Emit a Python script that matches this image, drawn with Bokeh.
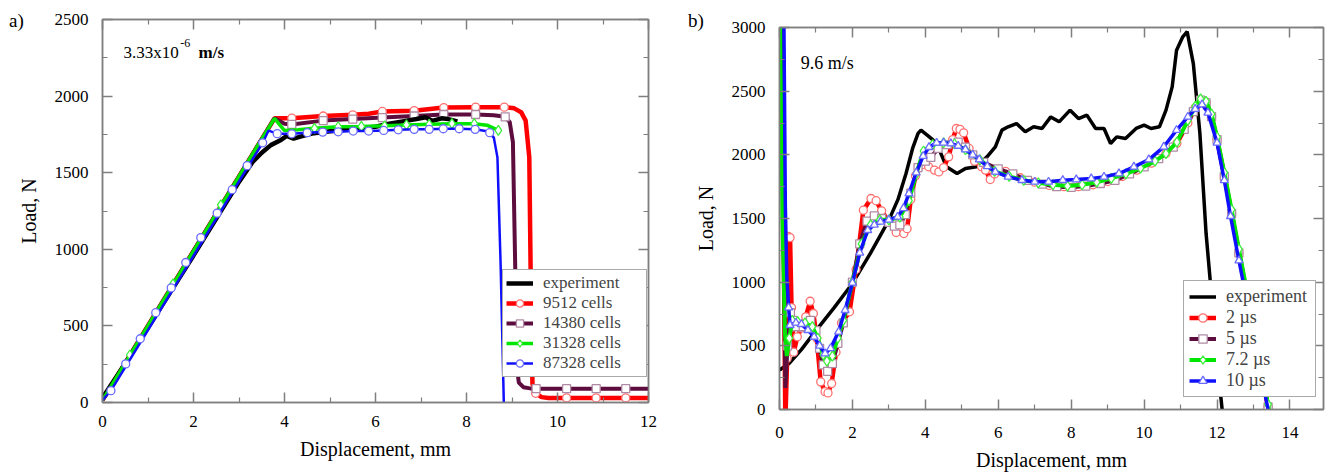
from bokeh.plotting import figure
from bokeh.models import Range1d, LinearAxis, FixedTicker, Label, Legend, LegendItem, Div
from bokeh.embed import file_html
from bokeh.resources import INLINE

# ---------------- panel a) data ----------------
xticks_a = [0, 2, 4, 6, 8, 10, 12]
yticks_a = [0, 500, 1000, 1500, 2000, 2500]

exp_a_x = [0, 0.5, 1.0, 1.5, 2.0, 2.5, 3.0, 3.3, 3.5, 3.7, 3.9, 4.05, 4.2, 4.35, 4.6, 5.0, 5.5, 6.0, 6.3, 6.6, 6.9, 7.1, 7.25, 7.45, 7.6, 7.8]
exp_a_y = [30, 255, 490, 725, 960, 1200, 1440, 1570, 1630, 1680, 1710, 1740, 1722, 1735, 1755, 1770, 1785, 1800, 1820, 1835, 1850, 1862, 1838, 1855, 1850, 1835]

c9512_x = [0, 3.78, 4.16, 4.85, 5.5, 5.85, 6.15, 6.85, 7.5, 8.2, 8.83, 9.05, 9.2, 9.3, 9.38, 9.42, 9.45, 9.52, 9.65, 9.8, 10.2, 10.85, 11.5, 12]
c9512_y = [15, 1855, 1856, 1870, 1878, 1885, 1900, 1905, 1925, 1928, 1928, 1920, 1895, 1840, 1600, 600, 120, 60, 35, 30, 30, 30, 30, 30]
c9512_mx = [4.16, 4.85, 5.5, 6.15, 6.85, 7.5, 8.2, 8.83, 9.52, 10.2, 10.85, 11.5]
c9512_my = [1856, 1870, 1878, 1900, 1905, 1925, 1928, 1928, 60, 30, 30, 30]

c14380_x = [0, 3.78, 4.0, 4.16, 4.85, 5.5, 6.15, 6.85, 7.5, 8.2, 8.6, 8.85, 8.95, 9.02, 9.07, 9.1, 9.15, 9.25, 9.4, 9.53, 10.2, 10.85, 11.5, 12]
c14380_y = [15, 1855, 1820, 1815, 1840, 1850, 1860, 1870, 1880, 1880, 1875, 1865, 1830, 1700, 900, 250, 130, 100, 92, 90, 90, 90, 90, 90]
c14380_mx = [4.16, 4.85, 5.5, 6.15, 6.85, 7.5, 8.2, 8.85, 9.53, 10.2, 10.85, 11.5]
c14380_my = [1815, 1840, 1850, 1860, 1870, 1880, 1880, 1865, 90, 90, 90, 90]

c31328_x = [0, 3.5, 3.78, 4.0, 4.3, 4.66, 5.18, 5.69, 6.2, 6.68, 7.18, 7.68, 8.17, 8.45, 8.7]
c31328_y = [15, 1720, 1855, 1775, 1780, 1790, 1800, 1802, 1806, 1812, 1816, 1820, 1820, 1810, 1776]
c31328_mx = [0.6, 1.55, 2.6, 4.66, 5.18, 5.69, 6.2, 6.68, 7.18, 7.68, 8.17, 8.7]
c31328_my = [310, 775, 1290, 1790, 1800, 1802, 1806, 1812, 1816, 1820, 1820, 1776]

c87328_x = [0, 0.185, 3.52, 3.65, 3.84, 4.16, 4.5, 4.84, 5.18, 5.51, 5.85, 6.18, 6.5, 6.85, 7.18, 7.49, 7.84, 8.19, 8.45, 8.6, 8.68, 8.75, 8.82, 8.9]
c87328_y = [15, 77, 1695, 1775, 1755, 1754, 1761, 1765, 1767, 1772, 1772, 1776, 1780, 1783, 1783, 1787, 1787, 1783, 1770, 1730, 1600, 900, 0, -200]
c87328_mx = [0.185, 0.51, 0.83, 1.17, 1.51, 1.83, 2.16, 2.52, 2.85, 3.18, 3.52, 3.84, 4.16, 4.5, 4.84, 5.18, 5.51, 5.85, 6.18, 6.5, 6.85, 7.18, 7.49, 7.84, 8.19, 8.51]
c87328_my = [77, 252, 416, 586, 748, 914, 1076, 1236, 1389, 1546, 1695, 1755, 1754, 1761, 1765, 1767, 1772, 1772, 1776, 1780, 1783, 1783, 1787, 1787, 1783, 1761]

# ---------------- panel b) data ----------------
xticks_b = [0, 2, 4, 6, 8, 10, 12, 14]
yticks_b = [0, 500, 1000, 1500, 2000, 2500, 3000]

exp_b_x = [0, 0.26, 0.6, 1.0, 1.5, 2.0, 2.5, 3.0, 3.25, 3.47, 3.65, 3.8, 3.88, 4.05, 4.2, 4.35, 4.58, 4.87, 5.1, 5.4, 5.69, 5.92, 6.1, 6.27, 6.5, 6.74, 6.97, 7.2, 7.44, 7.67, 7.97, 8.2, 8.43, 8.67, 8.9, 9.08, 9.25, 9.49, 9.78, 10.0, 10.19, 10.42, 10.6, 10.77, 10.89, 11.06, 11.18, 11.35, 11.53, 11.7, 11.86, 12.0, 12.14, 12.2]
exp_b_y = [309, 361, 470, 620, 800, 990, 1230, 1487, 1650, 1853, 2050, 2168, 2194, 2155, 2120, 2063, 1906, 1853, 1893, 1906, 1984, 2063, 2194, 2220, 2246, 2181, 2220, 2207, 2298, 2259, 2351, 2285, 2312, 2207, 2207, 2089, 2141, 2128, 2207, 2233, 2207, 2220, 2351, 2534, 2822, 2927, 2967, 2716, 2168, 1382, 859, 387, 0, -150]

us2_x = [0.03, 0.1, 0.16, 0.21, 0.24, 0.29, 0.33, 0.39, 0.49, 0.6, 0.72, 0.84, 0.93, 1.02, 1.13, 1.25, 1.33, 1.43, 1.55, 1.7, 1.92, 2.1, 2.3, 2.51, 2.65, 2.8, 3.0, 3.2, 3.41, 3.5, 3.6, 3.73, 3.9, 4.09, 4.25, 4.37, 4.5, 4.64, 4.75, 4.85, 4.95, 5.05, 5.2, 5.35, 5.54, 5.65, 5.78, 5.9, 6.2, 6.6, 7.0, 7.4, 7.8, 8.2, 8.6, 9.0, 9.4, 9.8, 10.2, 10.6, 10.9, 11.2, 11.4, 11.55, 11.7, 11.85, 12.0, 12.2, 12.4, 12.6, 12.8, 13.0, 13.2, 13.4, 13.55]
us2_y = [3100, 1800, -100, 400, 1360, 1350, 800, 450, 571, 640, 728, 850, 754, 560, 217, 140, 130, 204, 450, 680, 767, 1100, 1565, 1657, 1640, 1560, 1474, 1390, 1382, 1420, 1650, 1835, 1920, 1906, 1880, 1866, 1900, 1984, 2120, 2207, 2200, 2173, 2050, 1950, 1906, 1880, 1806, 1850, 1870, 1820, 1785, 1760, 1750, 1750, 1765, 1790, 1830, 1880, 1935, 2010, 2090, 2250, 2370, 2430, 2410, 2300, 2120, 1840, 1540, 1230, 930, 620, 310, 20, -200]

us5_x = [0.06, 0.12, 0.16, 0.22, 0.3, 0.37, 0.45, 0.65, 0.85, 1.0, 1.1, 1.2, 1.32, 1.45, 1.6, 1.75, 2.0, 2.2, 2.4, 2.6, 2.8, 3.0, 3.15, 3.3, 3.45, 3.6, 3.8, 4.0, 4.15, 4.35, 4.6, 4.9, 5.1, 5.3, 5.6, 6.0, 6.4, 6.8, 7.2, 7.6, 8.0, 8.4, 8.8, 9.2, 9.6, 10.0, 10.4, 10.8, 11.1, 11.35, 11.55, 11.7, 11.85, 12.0, 12.2, 12.4, 12.6, 12.8, 13.0, 13.2, 13.4, 13.55]
us5_y = [3100, 1200, 170, 500, 760, 700, 650, 650, 700, 620, 480, 350, 300, 360, 520, 680, 1000, 1300, 1480, 1520, 1500, 1470, 1440, 1450, 1530, 1700, 1900, 1950, 1980, 2050, 2080, 2100, 2060, 2000, 1940, 1890, 1850, 1800, 1770, 1750, 1745, 1755, 1775, 1800, 1850, 1905, 1970, 2060, 2200, 2340, 2430, 2410, 2300, 2120, 1830, 1540, 1230, 930, 620, 310, 20, -200]

us72_x = [0.02, 0.08, 0.15, 0.2, 0.27, 0.35, 0.5, 0.7, 0.9, 1.05, 1.2, 1.3, 1.45, 1.6, 1.75, 2.0, 2.25, 2.5, 2.75, 3.0, 3.3, 3.55, 3.75, 3.95, 4.2, 4.5, 4.8, 5.1, 5.5, 5.9, 6.3, 6.7, 7.1, 7.5, 7.9, 8.3, 8.7, 9.1, 9.5, 9.9, 10.3, 10.6, 10.9, 11.2, 11.4, 11.55, 11.7, 11.85, 12.0, 12.2, 12.4, 12.6, 12.8, 13.0, 13.2, 13.4, 13.55]
us72_y = [3100, 1500, 600, 420, 560, 700, 690, 680, 650, 560, 430, 380, 420, 560, 700, 1000, 1300, 1450, 1490, 1490, 1510, 1640, 1850, 2030, 2080, 2095, 2085, 2040, 1960, 1870, 1830, 1800, 1780, 1765, 1755, 1765, 1785, 1815, 1850, 1895, 1950, 2010, 2100, 2270, 2380, 2440, 2420, 2320, 2140, 1860, 1570, 1260, 960, 650, 340, 40, -200]

us10_x = [0.12, 0.16, 0.2, 0.25, 0.29, 0.45, 0.6, 0.78, 0.95, 1.1, 1.25, 1.4, 1.62, 1.8, 2.0, 2.2, 2.42, 2.6, 2.77, 3.0, 3.24, 3.4, 3.55, 3.75, 3.94, 4.1, 4.31, 4.5, 4.7, 4.9, 5.1, 5.3, 5.48, 5.7, 5.92, 6.27, 6.65, 7.0, 7.38, 7.77, 8.14, 8.55, 8.9, 9.31, 9.72, 10.13, 10.54, 10.89, 11.2, 11.4, 11.59, 11.75, 12.0, 12.2, 12.37, 12.6, 12.8, 13.0, 13.2, 13.4, 13.55]
us10_y = [3100, 1600, 1050, 800, 662, 680, 670, 623, 570, 500, 440, 480, 610, 780, 995, 1230, 1408, 1450, 1474, 1490, 1513, 1580, 1696, 1860, 1990, 2060, 2094, 2095, 2089, 2070, 2042, 2000, 1963, 1910, 1866, 1827, 1801, 1788, 1788, 1801, 1806, 1814, 1827, 1853, 1906, 1963, 2063, 2194, 2298, 2360, 2395, 2330, 2094, 1800, 1518, 1170, 880, 590, 290, 0, -220]

FONT = "Liberation Serif"
AX = "#7f7f7f"


def style_axes(p, xt, yt, x_label_standoff, x_title_standoff):
    bottom = p.below[0]
    left = p.left[0]
    xminor = [(a + b) / 2 for a, b in zip(xt[:-1], xt[1:])] + [xt[-1] + (xt[1] - xt[0]) / 2]
    yminor = [(a + b) / 2 for a, b in zip(yt[:-1], yt[1:])]
    bottom.ticker = FixedTicker(ticks=xt, minor_ticks=xminor)
    left.ticker = FixedTicker(ticks=yt, minor_ticks=yminor)
    top = LinearAxis(ticker=FixedTicker(ticks=xt, minor_ticks=xminor))
    right = LinearAxis(ticker=FixedTicker(ticks=yt, minor_ticks=yminor))
    p.add_layout(top, "above")
    p.add_layout(right, "right")
    for ax in [bottom, left, top, right]:
        ax.major_tick_in = 10
        ax.major_tick_out = 0
        ax.minor_tick_in = 5
        ax.minor_tick_out = 0
        ax.axis_line_color = AX
        ax.axis_line_width = 1.5
        ax.major_tick_line_color = AX
        ax.minor_tick_line_color = AX
        ax.major_tick_line_width = 1.5
        ax.minor_tick_line_width = 1.2
        ax.major_label_text_font = FONT
        ax.major_label_text_font_size = "17px"
        ax.major_label_text_color = "black"
        ax.axis_label_text_font = FONT
        ax.axis_label_text_font_size = "20px"
        ax.axis_label_text_font_style = "normal"
        ax.axis_label_text_color = "black"
    for ax in [top, right]:
        ax.major_label_text_color = None
        ax.major_label_text_font_size = "1px"
        ax.major_label_standoff = 0
    bottom.major_label_standoff = x_label_standoff
    bottom.axis_label_standoff = x_title_standoff
    left.major_label_standoff = 14
    left.axis_label_standoff = 12
    p.xgrid.visible = False
    p.ygrid.visible = False
    p.outline_line_color = AX
    p.outline_line_width = 1.5


# ---------------- panel a ----------------
pa = figure(width=670, height=474, output_backend="svg", toolbar_location=None,
            x_range=Range1d(0, 12), y_range=Range1d(0, 2500),
            x_axis_label="Displacement, mm", y_axis_label="Load, N",
            min_border_left=102, min_border_right=22, min_border_top=19, min_border_bottom=72)
style_axes(pa, xticks_a, yticks_a, 13, 8)

series_a = [
    ("9512 cells", c9512_x, c9512_y, c9512_mx, c9512_my, "#ff0000", "#ff7070", "circle", 4.5),
    ("14380 cells", c14380_x, c14380_y, c14380_mx, c14380_my, "#5c0d3e", "#b08aa4", "square", 4),
]
items_a = {}
for name, lx, ly, mx, my, col, mcol, mk, lw in series_a:
    l = pa.line(lx, ly, line_color=col, line_width=lw)
    s = pa.scatter(mx, my, marker=mk, size=8, fill_color="white", line_color=mcol, line_width=1.3)
    items_a[name] = [l, s]
le = pa.line(exp_a_x, exp_a_y, line_color="black", line_width=4.5)
lg = pa.line(c31328_x, c31328_y, line_color="#00e600", line_width=3.5)
sg = pa.scatter(c31328_mx, c31328_my, marker="diamond", size=10, fill_color="white",
                line_color="#3cf03c", line_width=1.3)
items_a["31328 cells"] = [lg, sg]
lb = pa.line(c87328_x, c87328_y, line_color="#1010ff", line_width=2.5)
sb = pa.scatter(c87328_mx, c87328_my, marker="circle", size=8, fill_color="white",
                line_color="#6a6aff", line_width=1.3)
items_a["87328 cells"] = [lb, sb]

leg_a = Legend(items=[LegendItem(label="experiment", renderers=[le])] +
               [LegendItem(label=k, renderers=items_a[k]) for k in ["9512 cells", "14380 cells", "31328 cells", "87328 cells"]],
               location=(400, 25), orientation="vertical",
               label_text_font=FONT, label_text_font_size="17px",
               label_height=18, glyph_height=18, glyph_width=27, label_standoff=10,
               label_width=100, spacing=0, padding=3, margin=0,
               border_line_color="#555555", border_line_width=1.5,
               background_fill_color="white", background_fill_alpha=1.0)
pa.add_layout(leg_a, "center")

pa.add_layout(Label(x=0.46, y=2284, text="3.33x10", text_font=FONT, text_font_size="17px",
                    text_baseline="middle", text_color="black"))
pa.add_layout(Label(x=1.71, y=2345, text="-6", text_font=FONT, text_font_size="12px",
                    text_baseline="middle", text_color="black"))
pa.add_layout(Label(x=2.11, y=2284, text="m/s", text_font=FONT, text_font_size="17px",
                    text_font_style="bold", text_baseline="middle", text_color="black"))

# ---------------- panel b ----------------
pb = figure(width=668, height=474, output_backend="svg", toolbar_location=None,
            x_range=Range1d(0, 14.92), y_range=Range1d(0, 3000),
            x_axis_label="Displacement, mm", y_axis_label="Load, N",
            min_border_left=109, min_border_right=15, min_border_top=27, min_border_bottom=65)
style_axes(pb, xticks_b, yticks_b, 17, 8)

leb = pb.line(exp_b_x, exp_b_y, line_color="black", line_width=3.5)
series_b = [
    ("2 µs", us2_x, us2_y, "#ff0000", "#ff7070", "circle", 4.5),
    ("5 µs", us5_x, us5_y, "#5c0d3e", "#b08aa4", "square", 4),
    ("7.2 µs", us72_x, us72_y, "#00e600", "#3cf03c", "diamond", 4),
    ("10 µs", us10_x, us10_y, "#1010ff", "#6a6aff", "triangle", 3.5),
]
items_b = [LegendItem(label="experiment", renderers=[leb])]
for name, lx, ly, col, mcol, mk, lw in series_b:
    l = pb.line(lx, ly, line_color=col, line_width=lw)
    mx = [x for x, y in zip(lx, ly) if 0 < y < 2950 and x > 0.2]
    my = [y for x, y in zip(lx, ly) if 0 < y < 2950 and x > 0.2]
    s = pb.scatter(mx, my, marker=mk, size=8 if mk != "diamond" else 10, fill_color="white",
                   line_color=mcol, line_width=1.3)
    items_b.append(LegendItem(label=name, renderers=[l, s]))

leg_b = Legend(items=items_b, location=(404, 12), orientation="vertical",
               label_text_font=FONT, label_text_font_size="18px",
               label_height=21, glyph_height=21, glyph_width=27, label_standoff=10,
               label_width=84, spacing=0, padding=5, margin=0,
               border_line_color="#555555", border_line_width=1.5,
               background_fill_color="white", background_fill_alpha=1.0)
pb.add_layout(leg_b, "center")

pb.add_layout(Label(x=0.58, y=2725, text="9.6 m/s", text_font=FONT, text_font_size="18px",
                    text_baseline="middle", text_color="black"))

# panel letters (outside the plot frames)
div_style = {"position": "absolute", "font-family": FONT, "font-size": "19px", "color": "black",
             "line-height": "20px"}
da = Div(text="a)", styles=dict(div_style, left="4px", top="6px"))
db = Div(text="b)", styles=dict(div_style, left="683px", top="6px"))

html = file_html([pa, pb, da, db], INLINE)
html = html.replace("</head>", "<style>html,body{margin:0;padding:0;}"
                    "body{display:flex;flex-direction:row;align-items:flex-start;position:relative;}"
                    "</style></head>", 1)
open("out.html", "w").write(html)
